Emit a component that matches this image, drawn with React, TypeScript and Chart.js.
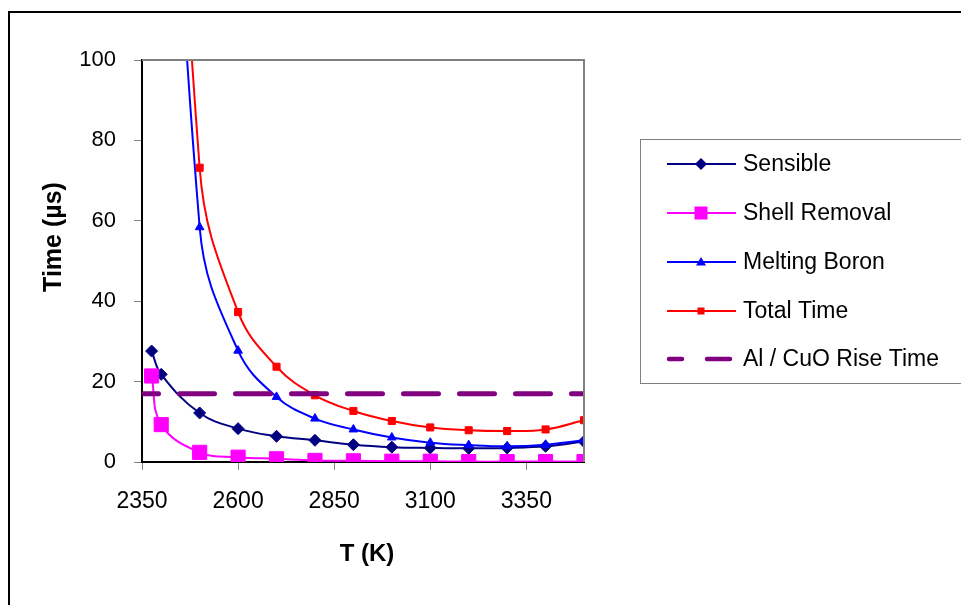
import React, { useEffect, useRef } from "react";
import { Chart, registerables } from "chart.js";

Chart.register(...registerables);

// ---- data ----
const temps = [2375, 2400, 2500, 2600, 2700, 2800, 2900, 3000, 3100, 3200, 3300, 3400, 3500];
const sensible = [27.6, 21.8, 12.2, 8.3, 6.4, 5.4, 4.3, 3.7, 3.5, 3.4, 3.5, 3.9, 5.1];
const shellRemoval = [21.4, 9.3, 2.4, 1.2, 0.8, 0.4, 0.3, 0.2, 0.2, 0.1, 0.1, 0.1, 0.1];
const meltingBoron = [450, 260, 58.4, 27.7, 16.2, 10.8, 8.1, 6.1, 4.8, 4.2, 3.9, 4.3, 5.4];
const totalTime = [499, 291, 73.2, 37.3, 23.7, 16.6, 12.7, 10.2, 8.6, 7.9, 7.7, 8.1, 10.4];
const riseTimeT = [2350, 3500];
const riseTime = [17, 17];

const xTicks = [2350, 2600, 2850, 3100, 3350];
const yTicks = [0, 20, 40, 60, 80, 100];
const seriesNames = ["Sensible", "Shell Removal", "Melting Boron", "Total Time", "Al / CuO Rise Time"];
const xTitle = "T (K)";
const yTitle = "Time (\u00b5s)";

const FONT = '"Liberation Sans", Arial, sans-serif';
const NAVY = "#000080";
const MAGENTA = "#FF00FF";
const BLUE = "#0000FF";
const RED = "#FF0000";
const PURPLE = "#800080";

const pts = (xs: number[], ys: number[]) => xs.map((x, i) => ({ x, y: ys[i] }));

function drawMarker(ctx: CanvasRenderingContext2D, kind: string, x: number, y: number, r: number, color: string) {
  ctx.save();
  ctx.fillStyle = color;
  ctx.beginPath();
  if (kind === "diamond") {
    ctx.moveTo(x, y - r);
    ctx.lineTo(x + r, y);
    ctx.lineTo(x, y + r);
    ctx.lineTo(x - r, y);
    ctx.closePath();
  } else if (kind === "square") {
    ctx.rect(x - r, y - r, 2 * r, 2 * r);
  } else if (kind === "triangle") {
    ctx.moveTo(x, y - r);
    ctx.lineTo(x + r, y + r * 0.7);
    ctx.lineTo(x - r, y + r * 0.7);
    ctx.closePath();
  }
  ctx.fill();
  ctx.restore();
}

const decorPlugin = {
  id: "decor",
  afterDraw(chart: any) {
    const ctx: CanvasRenderingContext2D = chart.ctx;
    const a = chart.chartArea;
    ctx.save();
    // gray top/right plot border
    ctx.strokeStyle = "#808080";
    ctx.lineWidth = 2;
    ctx.beginPath();
    ctx.moveTo(a.left, a.top);
    ctx.lineTo(a.right, a.top);
    ctx.lineTo(a.right, a.bottom);
    ctx.stroke();

    // outer frame
    ctx.strokeStyle = "#000";
    ctx.lineWidth = 2;
    ctx.strokeRect(9, 12, 2000, 2000);

    // axis titles
    ctx.fillStyle = "#000";
    ctx.font = `bold 24px ${FONT}`;
    ctx.textAlign = "center";
    ctx.textBaseline = "alphabetic";
    ctx.fillText(xTitle, 367, 561);
    ctx.save();
    ctx.translate(61, 237);
    ctx.rotate(-Math.PI / 2);
    ctx.font = `bold 25px ${FONT}`;
    ctx.fillText(yTitle, 0, 0);
    ctx.restore();

    // legend box
    ctx.strokeStyle = "#808080";
    ctx.lineWidth = 1;
    ctx.strokeRect(640.5, 139.5, 400, 244);
    const rows = [164, 213, 262, 311, 359];
    const colors = [NAVY, MAGENTA, BLUE, RED, PURPLE];
    ctx.font = `23px ${FONT}`;
    ctx.textAlign = "left";
    ctx.textBaseline = "middle";
    rows.forEach((y, i) => {
      ctx.strokeStyle = colors[i];
      if (i < 4) {
        ctx.lineWidth = 2;
        ctx.setLineDash([]);
        ctx.beginPath();
        ctx.moveTo(667, y);
        ctx.lineTo(736, y);
        ctx.stroke();
      } else {
        ctx.lineWidth = 4.5;
        ctx.lineCap = "round";
        ctx.beginPath();
        ctx.moveTo(669, y);
        ctx.lineTo(682, y);
        ctx.moveTo(707, y);
        ctx.lineTo(730, y);
        ctx.stroke();
        ctx.lineCap = "butt";
      }
      if (i === 0) drawMarker(ctx, "diamond", 701, y, 6, NAVY);
      if (i === 1) drawMarker(ctx, "square", 701, y, 6.5, MAGENTA);
      if (i === 2) drawMarker(ctx, "triangle", 701, y, 5, BLUE);
      if (i === 3) drawMarker(ctx, "square", 701, y, 3.5, RED);
      ctx.fillStyle = "#000";
      ctx.fillText(seriesNames[i], 743, y + 1);
    });
    ctx.restore();
  },
};

export default function App() {
  const ref = useRef<HTMLCanvasElement>(null);
  useEffect(() => {
    if (!ref.current) return;
    Chart.defaults.color = "#000";
    Chart.defaults.font.family = FONT;
    const common = { borderWidth: 2, tension: 0.4, pointBorderWidth: 1 };
    const chart = new Chart(ref.current, {
      type: "line",
      data: {
        datasets: [
          {
            ...common,
            label: seriesNames[0],
            data: pts(temps, sensible),
            borderColor: NAVY,
            backgroundColor: NAVY,
            pointStyle: "rectRot",
            pointRadius: 6,
            order: 5,
          },
          {
            ...common,
            label: seriesNames[1],
            data: pts(temps, shellRemoval),
            borderColor: MAGENTA,
            backgroundColor: MAGENTA,
            pointStyle: "rect",
            pointRadius: 10,
            order: 4,
          },
          {
            ...common,
            label: seriesNames[2],
            data: pts(temps, meltingBoron),
            borderColor: BLUE,
            backgroundColor: BLUE,
            pointStyle: "triangle",
            pointRadius: 5,
            order: 3,
          },
          {
            ...common,
            label: seriesNames[3],
            data: pts(temps, totalTime),
            borderColor: RED,
            backgroundColor: RED,
            pointStyle: "rect",
            pointRadius: 5,
            order: 2,
          },
          {
            label: seriesNames[4],
            data: pts(riseTimeT, riseTime),
            borderColor: PURPLE,
            backgroundColor: PURPLE,
            borderWidth: 5,
            borderDash: [35, 21],
            borderDashOffset: 18.5,
            borderCapStyle: "round",
            pointRadius: 0,
            order: 1,
          },
        ],
      },
      options: {
        responsive: false,
        animation: false,
        events: [],
        layout: { padding: { top: 60, right: 377, left: 0, bottom: 0 } },
        plugins: { legend: { display: false }, tooltip: { enabled: false } },
        scales: {
          x: {
            type: "linear",
            min: 2350,
            max: 3500,
            afterBuildTicks: (s: any) => {
              s.ticks = xTicks.map((v) => ({ value: v }));
            },
            afterFit: (s: any) => {
              s.height = 143;
            },
            ticks: {
              font: { size: 23 },
              padding: 18,
              maxRotation: 0,
              autoSkip: false,
              callback: (v: any) => String(v),
            },
            grid: { drawOnChartArea: false, drawTicks: true, tickLength: 8, color: "#808080" },
            border: { display: true, color: "#000", width: 2 },
          },
          y: {
            type: "linear",
            min: 0,
            max: 100,
            afterBuildTicks: (s: any) => {
              s.ticks = yTicks.map((v) => ({ value: v }));
            },
            afterFit: (s: any) => {
              s.width = 142;
            },
            ticks: { font: { size: 22 }, padding: 18, callback: (v: any) => String(v) },
            grid: { drawOnChartArea: false, drawTicks: true, tickLength: 8, color: "#808080" },
            border: { display: true, color: "#000", width: 2 },
          },
        },
      },
      plugins: [decorPlugin],
    });
    return () => chart.destroy();
  }, []);
  return (
    <div style={{ position: "absolute", left: 0, top: 0, width: 961, height: 605, background: "#fff" }}>
      <canvas ref={ref} width={961} height={605} style={{ display: "block" }} />
    </div>
  );
}
